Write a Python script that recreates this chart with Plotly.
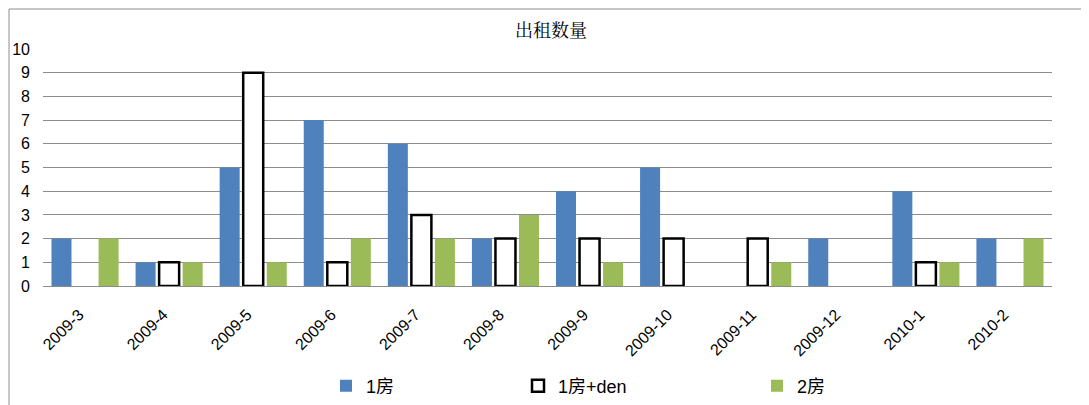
import plotly.graph_objects as go

months = ["2009-3", "2009-4", "2009-5", "2009-6", "2009-7", "2009-8",
          "2009-9", "2009-10", "2009-11", "2009-12", "2010-1", "2010-2"]
one_room = [2, 1, 5, 7, 6, 2, 4, 5, 0, 2, 4, 2]
one_room_den = [0, 1, 9, 1, 3, 2, 2, 2, 2, 0, 1, 0]
two_room = [2, 1, 1, 2, 2, 3, 1, 0, 1, 0, 1, 2]

FONT = "Liberation Sans, Arial, Noto Sans CJK SC, sans-serif"

# page body has an 8px margin, so work in screenshot pixels and shift
OFF = 8
L, R, T, B = 43 - OFF, 1052 - OFF, 49 - OFF, 286 - OFF
W, H = 1089 - OFF, 405 - OFF

fig = go.Figure()
fig.add_trace(go.Bar(x=months, y=one_room, name="1房", showlegend=True,
                     marker=dict(color="#4F81BD", line_width=0), legend="legend"))
# empty months drawn with no bar (otherwise the outline shows on the axis)
fig.add_trace(go.Bar(x=months, y=[v if v else None for v in one_room_den], name="1房+den",
                     showlegend=True,
                     marker=dict(color="white", line=dict(color="black", width=2.5)),
                     legend="legend2"))
fig.add_trace(go.Bar(x=months, y=two_room, name="2房", showlegend=True,
                     marker=dict(color="#9BBB59", line_width=0), legend="legend3"))


def px_x(p):
    return (p - OFF - L) / (R - L)


def px_y(p):
    return (B - (p - OFF)) / (B - T)


def cx(p):
    return (p - OFF) / W


def cy(p):
    return 1 - (p - OFF) / H


leg = dict(orientation="h", yanchor="middle", xanchor="left", xref="container", yref="container",
           font=dict(family=FONT, size=18, color="black"), bgcolor="rgba(0,0,0,0)")

fig.update_layout(
    width=W, height=H,
    margin=dict(l=L, r=W - R, t=T, b=H - B),
    paper_bgcolor="white", plot_bgcolor="white",
    barmode="group", bargap=0.16, bargroupgap=0.15,
    title=dict(text="出租数量", x=cx(551), y=cy(31),
               xanchor="center", yanchor="middle",
               font=dict(family="Noto Serif CJK SC, Noto Sans CJK SC", size=18, color="black")),
    font=dict(family=FONT, size=16, color="black"),
    legend=dict(leg, x=cx(326), y=cy(386)),
    legend2=dict(leg, x=cx(518), y=cy(386)),
    legend3=dict(leg, x=cx(757), y=cy(386)),
    shapes=[dict(type="rect", xref="paper", yref="paper",
                 x0=px_x(9), x1=px_x(1100), y0=px_y(420), y1=px_y(9),
                 line=dict(color="#8C8C8C", width=1), layer="below")],
)
fig.update_xaxes(type="category", tickangle=-45, tickfont=dict(size=16), showline=True,
                 linecolor="#8C8C8C", ticks="", showgrid=False, automargin=False,
                 ticklabelstandoff=12, ticklabelshift=-6)
fig.update_yaxes(range=[0, 10], dtick=1, showgrid=True, gridcolor="#8C8C8C",
                 gridwidth=1, zeroline=False, showline=False, ticks="",
                 tickfont=dict(size=16), ticklabelstandoff=12, automargin=False)

fig.write_html("out.html")
